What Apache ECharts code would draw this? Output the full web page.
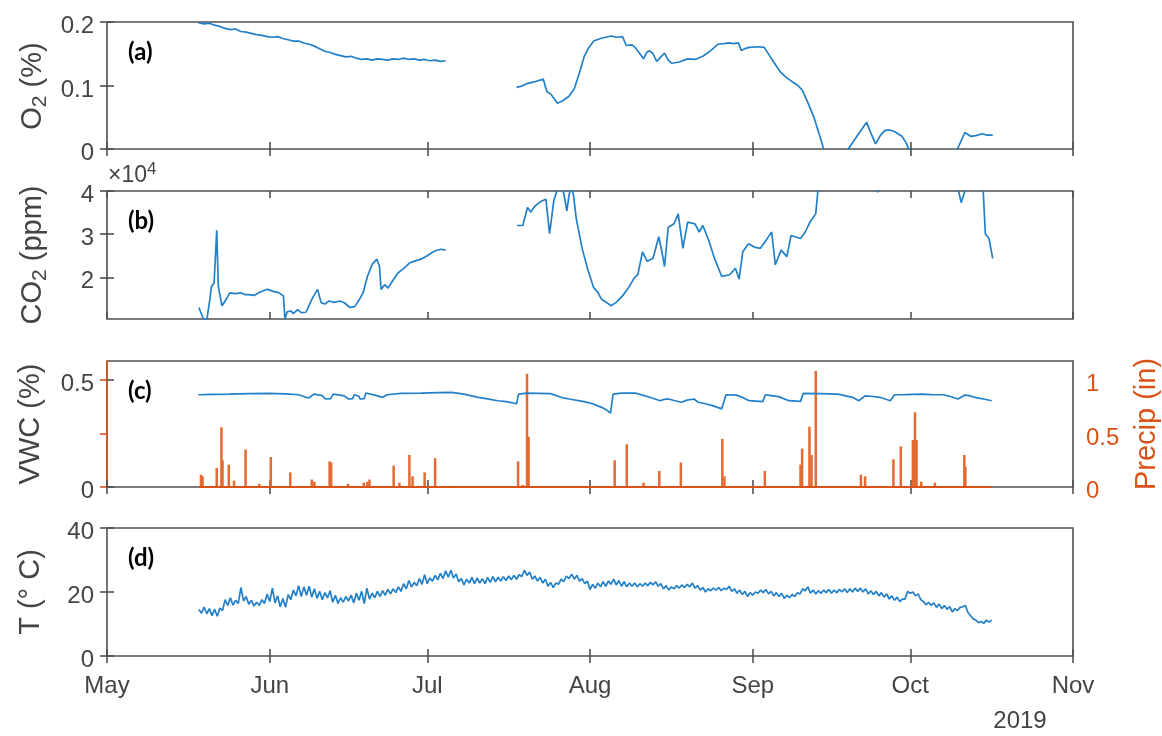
<!DOCTYPE html>
<html><head><meta charset="utf-8">
<script src="https://cdn.jsdelivr.net/npm/echarts@6/dist/echarts.min.js"></script>
<style>html,body{margin:0;padding:0;background:#fff}#c{width:1162px;height:736px}</style>
</head><body><div id="c"></div>
<script>
// x values are days since 2019-05-01
const monthNames = ['May','Jun','Jul','Aug','Sep','Oct','Nov'];
const monthStartDay = [0,31,61,92,123,153,184];
const yearLabel = '2019';

// (a) O2 (%)
const o2Day = [17.4,18.5,19.5,20.5,21.5,22.5,23.5,24.5,25.5,26.5,27.5,28.5,29.5,30.5,31.5,32.5,33.5,34.5,35.5,36.5,37.5,38.5,39.5,40.5,41.5,42.5,43.5,44.5,45.5,46.5,47.5,48.5,49.5,50.5,51.5,52.5,53.5,54.5,55.5,56.5,57.5,58.5,59.5,60.5,61.5,62.5,63.5,64.5,
  71,
  78.0,79.0,80.0,81.5,83.1,83.8,84.6,85.8,86.8,88.0,89.0,90.0,90.9,91.8,92.7,94.0,95.0,96.0,97.0,98.2,98.9,100.0,100.6,101.5,102.2,102.8,103.3,104.0,104.7,105.5,106.2,106.9,107.6,109.0,110.6,112.0,113.5,115.0,116.4,117.5,118.5,119.3,120.3,120.8,121.5,122.3,124.0,125.2,126.2,127.3,128.3,129.2,130.5,131.6,132.4,133.5,134.6,135.6,136.5,137.5,139.0,140.5,141.2,143.0,144.7,145.5,146.4,147.2,148.1,149.0,149.9,151.4,152.2,152.7,155.0,160.0,162.0,163.4,164.5,165.5,166.7,167.5,168.7];
const o2Pct = [0.199,0.197,0.198,0.195,0.193,0.190,0.188,0.189,0.185,0.184,0.182,0.180,0.179,0.177,0.176,0.177,0.174,0.172,0.170,0.170,0.167,0.165,0.162,0.158,0.154,0.152,0.149,0.147,0.145,0.146,0.143,0.141,0.142,0.140,0.142,0.141,0.140,0.142,0.141,0.143,0.141,0.142,0.140,0.141,0.139,0.140,0.138,0.139,
  null,
  0.097,0.099,0.103,0.106,0.110,0.090,0.086,0.072,0.076,0.083,0.095,0.120,0.146,0.160,0.170,0.174,0.176,0.178,0.176,0.177,0.163,0.164,0.160,0.150,0.142,0.152,0.155,0.150,0.138,0.145,0.151,0.140,0.135,0.137,0.142,0.141,0.146,0.155,0.165,0.166,0.167,0.166,0.167,0.155,0.158,0.160,0.161,0.160,0.147,0.133,0.121,0.114,0.106,0.100,0.093,0.073,0.051,0.025,0.0,-0.03,-0.05,-0.02,0.0,0.022,0.042,0.025,0.008,0.020,0.029,0.030,0.028,0.020,0.010,0.0,-0.03,-0.03,0.0,0.026,0.020,0.021,0.024,0.022,0.022];

// (b) CO2 (ppm)
const co2Day = [17.5,18.3,19.0,19.6,19.9,20.4,20.9,21.2,21.9,22.5,23.4,24.5,25.5,26.2,27.0,28.0,29.0,30.0,30.6,31.5,32.8,33.6,33.9,34.3,35.0,35.5,36.3,37.0,37.9,38.5,39.0,40.1,40.8,41.5,42.3,43.3,44.3,45.2,46.3,47.2,48.1,48.8,49.6,50.5,51.4,51.9,52.2,52.9,53.5,54.2,55.4,56.5,57.6,58.7,59.8,61.0,62.0,62.7,63.6,64.5,
  71,
  78.1,79.2,80.1,80.7,81.5,82.5,83.6,84.3,85.1,85.8,86.5,87.0,87.6,88.0,88.3,88.8,89.4,90.5,91.6,92.7,93.5,94.2,95.0,96.0,97.0,98.2,99.3,100.4,101.1,102.0,102.9,104.0,105.1,105.6,106.2,106.9,108.0,108.8,109.7,110.6,112.0,112.8,113.5,114.6,115.7,117.1,118.6,119.7,120.4,121.1,122.2,123.3,124.4,125.5,126.6,127.3,128.4,129.5,130.3,132.1,133.0,133.9,135.0,135.4,136.0,140.0,146.5,146.8,147.1,155.0,162.0,162.3,162.7,163.4,164.0,166.7,166.9,167.3,168.0,168.7];
const co2Ppm = [13000,10500,10000,15000,17900,18700,30900,17900,13400,14500,16400,16200,16400,16000,16000,15800,16500,17000,17200,16800,16400,15700,10300,12000,12200,11600,12500,11800,11900,13500,14900,17200,14100,13800,14500,14200,14500,14100,13000,13200,14900,16500,20200,23000,24200,22500,17200,18300,17500,18800,21000,22000,23300,23800,24200,25000,25800,26200,26500,26300,
  null,
  32000,32000,36200,35100,36500,37500,38100,30100,37700,40500,41000,39500,35400,39000,40500,39500,33500,26700,21700,17600,16500,14900,14300,13400,14200,15700,17500,19800,20600,25900,23700,24400,29400,26500,22500,31600,32400,34700,26700,32800,32400,30500,32000,28600,24400,20200,20600,22100,19600,25900,27800,27000,26700,28500,30500,22900,26300,24800,29700,29000,30500,32800,34700,40000,42000,45000,42000,39700,42000,45000,41000,39500,37300,40000,42000,41500,40000,30100,29000,24400];

// (c) VWC (%) and precipitation (in)
const vwcDay = [17.4,20,23.4,27,30.6,34,36.5,37.9,38.5,39.4,41,41.6,42.6,43.1,45.2,46,46.8,47.1,48.0,48.2,49.0,49.3,51,52.5,53.3,56,59.8,63,65.6,68,70.7,72.5,74.4,76,77.6,78.0,78.4,80,84.5,86.9,88,90.9,92.5,94.2,95.2,95.9,96.4,98,100.6,102,103.8,105.4,106,107,108,109.4,110.5,111.8,112.6,114,115.5,117.1,117.9,119.9,121,122.3,124.9,125.4,126.5,127.9,129.9,132.1,132.6,136,139.2,142.0,143.2,144.4,145.5,147.2,149.2,150.0,152,155.3,157,159.3,160.5,162.1,163.3,164.2,165.7,167,168.5];
const vwcPct = [0.432,0.434,0.435,0.437,0.438,0.436,0.432,0.420,0.418,0.435,0.428,0.412,0.414,0.435,0.427,0.412,0.414,0.432,0.425,0.412,0.414,0.440,0.430,0.420,0.432,0.438,0.440,0.442,0.443,0.435,0.420,0.413,0.404,0.400,0.392,0.390,0.435,0.440,0.437,0.417,0.412,0.400,0.390,0.373,0.360,0.346,0.435,0.440,0.440,0.430,0.417,0.404,0.410,0.412,0.405,0.397,0.407,0.412,0.397,0.390,0.380,0.366,0.432,0.430,0.420,0.404,0.400,0.432,0.428,0.423,0.404,0.401,0.438,0.437,0.435,0.420,0.404,0.427,0.425,0.420,0.404,0.432,0.433,0.435,0.433,0.432,0.425,0.412,0.430,0.428,0.417,0.412,0.404];

const precipDay = [17.9,18.2,20.9,21.8,22.0,23.2,24.2,26.4,29.0,31.2,34.9,39.0,39.5,42.4,42.7,45.9,48.9,49.6,50.0,54.6,55.7,57.6,58.2,60.5,62.5,66.2,78.3,79.2,80.0,80.3,96.7,99.0,102.2,105.2,109.3,117.2,117.6,125.3,132.1,132.4,133.8,134.2,135.0,143.6,144.4,149.8,151.2,153.5,153.9,154.2,155.1,157.7,163.3,163.5];
const precipIn = [0.115,0.10,0.177,0.56,0.25,0.21,0.06,0.35,0.03,0.28,0.137,0.07,0.05,0.24,0.23,0.03,0.04,0.05,0.07,0.20,0.04,0.30,0.10,0.137,0.27,0.01,0.24,0.02,1.06,0.47,0.25,0.40,0.04,0.15,0.23,0.45,0.10,0.15,0.21,0.36,0.565,0.30,1.087,0.115,0.10,0.26,0.38,0.44,0.70,0.44,0.05,0.04,0.30,0.19];
const precipRecordDay = [17.5,168.5];
const precipRecordIn = [0,0];

// (d) T (deg C), every 12 h starting day 17.5
const tStartDay = 17.5, tStepDay = 0.5;
const tempC = [
14.5,
13.4,15.3, 13.2,14.8, 12.6,14.6, 12.4,15.0,
14.2,17.6, 15.8,18.2, 15.9,17.4, 16.4,21.4, 17.2,18.6,
16.2,17.4, 15.6,16.8, 15.8,17.6, 16.4,19.4, 17.0,21.2,
16.6,18.8, 15.4,18.0, 15.2,19.2, 17.6,20.6, 18.8,22.0,
18.6,21.6, 19.0,21.8, 18.4,21.0, 18.0,20.2, 17.6,19.8,
18.2,20.4, 16.8,19.0, 16.4,18.2, 16.8,18.6, 17.2,19.0,
16.6,19.6, 17.4,20.2, 16.4,21.2, 17.8,19.6, 18.2,20.2,
18.6,20.4, 19.0,20.8, 19.4,21.0, 19.8,21.6, 20.2,22.6,
21.0,23.6, 21.6,23.0, 22.0,24.2, 22.4,25.4, 22.6,24.4,
23.4,25.2, 23.8,25.8, 24.2,26.6, 24.6,26.8, 24.4,25.6,
23.2,24.2, 22.2,24.0, 22.8,24.6, 22.6,24.4, 22.8,24.2,
22.6,24.6, 23.0,24.8, 23.2,24.6, 23.4,24.8, 23.6,25.0,
23.8,25.2, 24.0,25.4, 24.8,26.8, 25.2,26.2, 24.0,25.0,
23.4,24.6, 22.8,24.0, 21.8,23.0, 21.4,22.8, 22.4,24.0,
23.2,25.0, 24.2,25.6, 24.0,25.2, 23.4,24.2, 22.6,23.4,
20.8,22.4, 21.2,22.8, 21.6,23.2, 21.8,23.4, 22.4,24.0,
22.2,23.6, 21.8,23.2, 21.6,22.8, 21.8,22.8, 21.6,22.6,
21.8,22.8, 22.0,23.0, 22.2,23.2, 21.8,22.6, 21.0,22.0,
20.6,21.6, 21.0,22.0, 21.2,22.2, 21.4,22.4, 21.6,22.8,
21.2,22.0, 20.6,21.4, 20.0,21.0, 20.4,21.2, 20.6,21.4,
20.4,21.2, 20.8,21.8, 20.2,21.0, 19.6,20.6, 19.2,20.2,
18.6,19.8, 19.0,20.0, 19.6,20.6, 19.8,20.8, 19.4,20.2,
18.8,19.8, 18.6,19.6, 18.0,19.0, 18.2,19.2, 18.6,19.8,
19.4,21.0, 20.4,21.6, 19.6,20.6, 19.4,20.4, 19.6,20.6,
19.8,20.8, 19.6,20.6, 19.8,20.8, 20.0,21.0, 19.8,21.0,
20.0,21.2, 20.2,21.2, 20.0,21.0, 19.4,20.4, 19.2,20.2,
18.8,19.8, 18.4,19.4, 17.8,18.8, 17.4,18.4, 17.0,17.8,
17.8,20.2, 19.6,20.0, 18.8,19.4, 17.6,17.0, 16.0,16.8,
15.8,16.6, 15.2,16.2, 14.8,15.8, 14.6,15.4, 13.8,14.8,
14.2,15.2, 15.4,15.8, 13.6,12.6, 11.6,11.2, 10.4,10.8,
10.2,11.2, 10.6,11.2
];

const panelLetters = ['(a)','(b)','(c)','(d)'];

// ---------- styling / layout ----------
const AX = '#505050', TXT = '#444444', BLUE = '#2280c8', ORANGE = '#D95319', BAR = '#e36a32';
const FONT = '"Liberation Sans", Arial, Helvetica, sans-serif';
const G = [{top:22,h:127},{top:191,h:128},{top:361,h:126},{top:528,h:128}];
const pairs = (xs, ys) => xs.map((x, i) => [x, ys[i]]);

const xAxes = [];
G.forEach((g, i) => {
  ['bottom','top'].forEach(pos => {
    xAxes.push({
      type:'value', gridIndex:i, min:0, max:184, position:pos,
      axisLine:{show:false},
      axisTick:{show:true, inside:true, length:7, customValues:monthStartDay, lineStyle:{color:AX, width:1.6}},
      axisLabel:{show: i===3 && pos==='bottom', customValues:monthStartDay,
        formatter: v => monthNames[monthStartDay.indexOf(v)],
        fontSize:24, color:TXT, margin:18, fontFamily:FONT},
      splitLine:{show:false}
    });
  });
});

function yAx(grid, pos, min, max, ticks, fmt, showLabel, color) {
  const c = color || TXT;
  return {
    type:'value', gridIndex:grid, position:pos, min:min, max:max,
    axisLine:{show: color !== undefined, lineStyle:{color: color || AX, width:1.6}},
    axisTick:{show:true, inside:true, length:7, customValues:ticks, lineStyle:{color: color || AX, width:1.6}},
    axisLabel:{show:showLabel, customValues:ticks, formatter: v => '{t|' + fmt(v) + '}', margin:13,
      rich:{t:{fontSize:24, color:c, fontFamily:FONT, padding:[9,0,0,0]}}},
    splitLine:{show:false}
  };
}
const plain = v => String(+v.toFixed(2));
const yAxes = [
  yAx(0,'left',0,0.2,[0,0.1,0.2],plain,true),
  yAx(0,'right',0,0.2,[0,0.1,0.2],plain,false),
  yAx(1,'left',10340,40000,[20000,30000,40000],v=>String(v/10000),true),
  yAx(1,'right',10340,40000,[20000,30000,40000],v=>String(v/10000),false),
  yAx(2,'left',0,0.59,[0,0.5],plain,true),
  yAx(2,'right',0,1.18,[0,0.5,1],plain,true,ORANGE),
  yAx(3,'left',0,40,[0,20,40],plain,true),
  yAx(3,'right',0,40,[0,20,40],plain,false)
];

const lineBase = {type:'line', showSymbol:false, symbol:'none', connectNulls:false, clip:true,
  lineStyle:{color:BLUE, width:1.7}, itemStyle:{color:BLUE}, animation:false};

const series = [
  Object.assign({}, lineBase, {name:'O2', xAxisIndex:0, yAxisIndex:0, data:pairs(o2Day,o2Pct)}),
  Object.assign({}, lineBase, {name:'CO2', xAxisIndex:2, yAxisIndex:2, data:pairs(co2Day,co2Ppm)}),
  {type:'line', name:'Precip record', xAxisIndex:4, yAxisIndex:5, showSymbol:false, symbol:'none',
    lineStyle:{color:ORANGE, width:2}, data:pairs(precipRecordDay,precipRecordIn), z:3},
  {type:'bar', name:'Precip', xAxisIndex:4, yAxisIndex:5, barWidth:2.5,
    itemStyle:{color:BAR}, data:pairs(precipDay,precipIn), clip:true, z:2},
  Object.assign({}, lineBase, {name:'VWC', xAxisIndex:4, yAxisIndex:4, data:pairs(vwcDay,vwcPct), z:4}),
  Object.assign({}, lineBase, {name:'T', xAxisIndex:6, yAxisIndex:6,
    data: tempC.map((v,i)=>[tStartDay + i*tStepDay, v])})
];

const sub = {m:{fontSize:29, fontFamily:FONT, fill:TXT, lineHeight:36}, s:{fontSize:21, fontFamily:FONT, fill:TXT, lineHeight:16, verticalAlign:'bottom'}};
function yTitle(text, x, y, color) {
  return {type:'text', x:x, y:y, rotation:Math.PI/2, silent:true,
    style:{text:text, rich: color ? {m:Object.assign({}, sub.m, {fill:color})} : sub,
      align:'center', verticalAlign:'middle', fill: color || TXT}};
}
const graphic = [
  yTitle('{m|O}{s|2}{m| (%)}', 33, 86),
  yTitle('{m|CO}{s|2}{m| (ppm)}', 33, 255),
  yTitle('{m|VWC (%)}', 31, 424),
  yTitle('{m|T (° C)}', 31, 592),
  yTitle('{m|Precip (in)}', 1147, 424, ORANGE),
  {type:'text', x:108, y:176, silent:true, style:{text:'{a|×10}{b|4}',
    rich:{a:{fontSize:23, fontFamily:FONT, fill:TXT, lineHeight:30}, b:{fontSize:17, fontFamily:FONT, fill:TXT, lineHeight:16, verticalAlign:'top'}},
    align:'left', verticalAlign:'middle'}},
  {type:'text', x:1020, y:721, silent:true, style:{text:yearLabel, fontSize:24, fontFamily:FONT, fill:TXT, align:'center', verticalAlign:'middle'}}
].concat(G.map((g,i)=>({type:'text', x:128, y:g.top+30, silent:true,
  style:{text:panelLetters[i], fontSize:24, fontWeight:'bold', fontFamily:'Lato, "Open Sans", sans-serif', fill:'#000', align:'left', verticalAlign:'middle'}})));

const chart = echarts.init(document.getElementById('c'), null, {renderer:'canvas'});
chart.setOption({
  animation:false,
  backgroundColor:'#fff',
  grid: G.map(g=>({left:107, right:89, top:g.top, height:g.h, show:true, borderColor:AX, borderWidth:1.6, backgroundColor:'transparent'})),
  xAxis: xAxes,
  yAxis: yAxes,
  series: series,
  graphic: graphic
});
</script></body></html>
